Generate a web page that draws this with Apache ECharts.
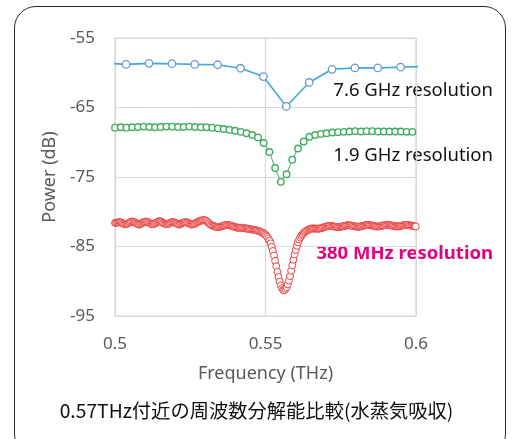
<!DOCTYPE html>
<html>
<head>
<meta charset="utf-8">
<script src="https://cdn.jsdelivr.net/npm/echarts@6/dist/echarts.min.js"></script>
<style>
  html, body { margin: 0; padding: 0; background: #ffffff; overflow: hidden; }
  #frame { position: absolute; left: 14px; top: 6px; width: 492px; height: 450px; border: 1.5px solid #2a2a2a; border-radius: 22px; box-sizing: border-box; }
  #chart { position: absolute; left: 0; top: 0; width: 513px; height: 439px; }
</style>
</head>
<body>
<div id="frame"></div>
<div id="chart"></div>
<script>
// ---- Data ----
const xTicks = [0.5, 0.55, 0.6];
const yTicks = [-95, -85, -75, -65, -55];

// 7.6 GHz resolution: frequencies (THz) and power (dB)
const blueFreq = [0.4961, 0.5037, 0.5113, 0.5189, 0.5265, 0.5341, 0.5417, 0.5493, 0.5569, 0.5645, 0.5721, 0.5797, 0.5873, 0.5949, 0.6025];
const bluePower = [-58.6, -58.8, -58.65, -58.7, -58.8, -58.85, -59.35, -60.55, -64.85, -61.4, -59.5, -59.3, -59.3, -59.2, -59.1];

// 1.9 GHz resolution
const greenStartTHz = 0.5;
const greenStepTHz = 0.0019;
const greenPower = [
  -67.9, -67.85, -67.9, -67.85, -67.8, -67.75, -67.8, -67.85, -67.8, -67.75,
  -67.75, -67.8, -67.8, -67.75, -67.8, -67.85, -67.85, -67.9, -68.0, -68.1,
  -68.2, -68.35, -68.5, -68.7, -68.95, -69.3, -70.1, -71.4, -73.7, -75.7,
  -74.6, -72.5, -70.9, -69.9, -69.2, -68.95, -68.8, -68.7, -68.6, -68.55,
  -68.5, -68.45, -68.4, -68.45, -68.4, -68.4, -68.45, -68.45, -68.45, -68.45,
  -68.45, -68.5, -68.5
];

// 380 MHz resolution
const redStartTHz = 0.5;
const redStepTHz = 0.00038;
const redPower = [
  -81.6, -81.6, -81.55, -81.5, -81.5, -81.55, -81.6, -81.7, -81.75, -81.8, -81.75, -81.7, -81.6, -81.5, -81.45, -81.4, -81.45,
  -81.5, -81.6, -81.7, -81.8, -81.85, -81.8, -81.7, -81.6, -81.5, -81.45, -81.4, -81.45, -81.5, -81.6, -81.7, -81.8, -81.8,
  -81.75, -81.7, -81.6, -81.5, -81.4, -81.35, -81.4, -81.5, -81.6, -81.7, -81.75, -81.8, -81.75, -81.7, -81.6, -81.55, -81.5,
  -81.5, -81.55, -81.6, -81.7, -81.8, -81.85, -81.8, -81.7, -81.6, -81.55, -81.5, -81.5, -81.55, -81.6, -81.7, -81.8, -81.85,
  -81.8, -81.75, -81.7, -81.6, -81.5, -81.4, -81.35, -81.3, -81.25, -81.2, -81.2, -81.25, -81.35, -81.5, -81.65, -81.8, -81.9,
  -82.0, -82.05, -82.1, -82.15, -82.2, -82.2, -82.2, -82.15, -82.1, -82.05, -82.0, -81.95, -81.9, -81.9, -81.9, -81.95, -82.0,
  -82.05, -82.1, -82.15, -82.2, -82.25, -82.3, -82.3, -82.3, -82.3, -82.3, -82.32, -82.35, -82.38, -82.42, -82.45, -82.48, -82.51,
  -82.54, -82.56, -82.59, -82.62, -82.66, -82.7, -82.75, -82.8, -82.86, -82.93, -83.02, -83.12,
  -83.25, -83.4, -83.6, -83.85, -84.15, -84.55, -85.05, -85.65, -86.3, -87.05, -87.85, -88.65, -89.4, -90.05, -90.6, -91.0, -91.25,
  -91.3, -91.1, -90.85, -90.45, -89.9, -89.25, -88.5, -87.7, -86.9, -86.15, -85.5, -84.9, -84.4, -84.0, -83.7, -83.45, -83.25,
  -83.05, -82.9, -82.8, -82.7, -82.6,
  -82.5, -82.44, -82.41, -82.41, -82.41, -82.42, -82.43, -82.44, -82.43, -82.41, -82.37, -82.32, -82.27, -82.21, -82.16, -82.1, -82.07,
  -82.05, -82.04, -82.05, -82.08, -82.11, -82.15, -82.18, -82.2, -82.22, -82.21, -82.19, -82.15, -82.1, -82.06, -82.02, -81.97, -81.95,
  -81.95, -81.95, -81.97, -82.01, -82.04, -82.08, -82.12, -82.14, -82.16, -82.16, -82.13, -82.1, -82.06, -82.02, -81.97, -81.93, -81.91,
  -81.9, -81.91, -81.93, -81.96, -82.0, -82.04, -82.08, -82.11, -82.13, -82.12, -82.1, -82.07, -82.03, -81.99, -81.95, -81.91, -81.89,
  -81.88, -81.89, -81.91, -81.95, -81.99, -82.03, -82.07, -82.1, -82.12, -82.12, -82.1, -82.07, -82.03, -81.99, -81.95, -81.92, -81.9,
  -81.89, -81.9, -81.92, -81.96, -82.0, -82.04, -82.07, -82.1, -82.12
];

const labels = [
  { text: '7.6 GHz resolution', color: '#111111', weight: 'normal' },
  { text: '1.9 GHz resolution', color: '#111111', weight: 'normal' },
  { text: '380 MHz resolution', color: '#e4007f', weight: 'bold' }
];
const caption = '0.57THz付近の周波数分解能比較(水蒸気吸収)';

// ---- Build ----
function pairsFromStep(start, step, values) {
  return values.map((v, i) => [+(start + i * step).toFixed(5), v]);
}
const blueData = blueFreq.map((f, i) => [f, bluePower[i]]);
const greenData = pairsFromStep(greenStartTHz, greenStepTHz, greenPower);
const redData = pairsFromStep(redStartTHz, redStepTHz, redPower);

const chart = echarts.init(document.getElementById('chart'), null, { renderer: 'canvas' });
const fontFam = '"Noto Sans", "Noto Sans CJK JP", sans-serif';

chart.setOption({
  backgroundColor: 'transparent',
  animation: false,
  grid: { left: 115, right: 97, top: 38, bottom: 123, containLabel: false, show: true, borderColor: '#d9d9d9', borderWidth: 1.2 },
  xAxis: {
    type: 'value', min: 0.5, max: 0.6, interval: 0.05,
    name: 'Frequency (THz)', nameLocation: 'middle', nameGap: 49,
    nameTextStyle: { color: '#595959', fontSize: 18, fontFamily: fontFam },
    axisLine: { show: false }, axisTick: { show: false },
    axisLabel: { color: '#595959', fontSize: 17, margin: 20, fontFamily: fontFam,
      formatter: v => xTicks.includes(+v.toFixed(3)) ? String(+v.toFixed(3)) : '' },
    splitLine: { show: true, lineStyle: { color: '#d9d9d9', width: 1.2 } }
  },
  yAxis: {
    type: 'value', min: -95, max: -55, interval: 10,
    name: 'Power (dB)', nameLocation: 'middle', nameGap: 50,
    nameTextStyle: { color: '#595959', fontSize: 18, fontFamily: fontFam },
    axisLine: { show: false }, axisTick: { show: false },
    axisLabel: { color: '#595959', fontSize: 17, margin: 20, fontFamily: fontFam,
      formatter: v => yTicks.includes(v) ? String(v) : '' },
    splitLine: { show: true, lineStyle: { color: '#d9d9d9', width: 1.2 } }
  },
  series: [
    {
      type: 'line', data: blueData, clip: true,
      symbol: 'circle', symbolSize: 7.5, showAllSymbol: true,
      lineStyle: { color: '#3ea8de', width: 1.6 },
      itemStyle: { color: '#ffffff', borderColor: '#6f97cf', borderWidth: 1.3 }
    },
    {
      type: 'line', data: greenData, clip: true,
      symbol: 'circle', symbolSize: 6.5, showAllSymbol: true,
      lineStyle: { color: '#3fae5c', width: 1 },
      itemStyle: { color: '#ffffff', borderColor: '#3fae5c', borderWidth: 1.4 }
    },
    {
      type: 'line', data: redData, clip: true,
      symbol: 'circle', symbolSize: 7, showAllSymbol: true,
      lineStyle: { color: '#e8413f', width: 1 },
      itemStyle: { color: '#ffffff', borderColor: '#e8413f', borderWidth: 1 }
    }
  ],
  graphic: [
    { type: 'text', right: 20, top: 81, style: { text: labels[0].text, fill: labels[0].color, font: labels[0].weight + ' 18.5px ' + fontFam } },
    { type: 'text', right: 20, top: 146, style: { text: labels[1].text, fill: labels[1].color, font: labels[1].weight + ' 18.5px ' + fontFam } },
    { type: 'text', right: 20, top: 244, style: { text: labels[2].text, fill: labels[2].color, font: labels[2].weight + ' 18.5px ' + fontFam } },
    { type: 'text', left: 'center', top: 401, style: { text: caption, fill: '#111111', font: '19.3px "Noto Sans CJK JP", sans-serif' } }
  ]
});
</script>
</body>
</html>
